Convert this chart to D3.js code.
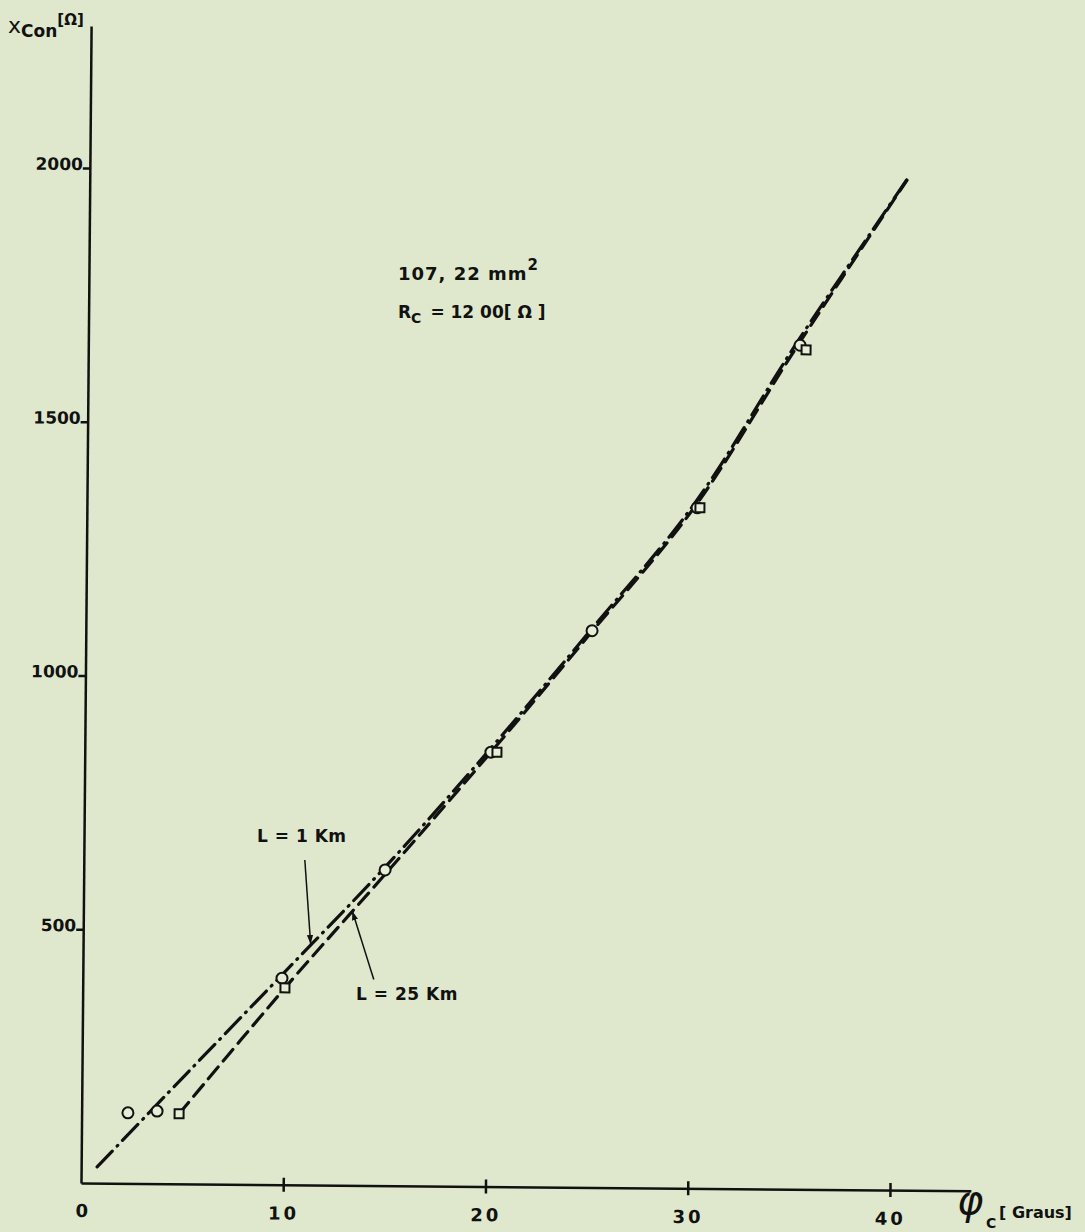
<!DOCTYPE html>
<html lang="pt">
<head>
<meta charset="UTF-8">
<title>Xcon x phi</title>
<style>
    body { margin: 0; background: #dfe8cd; }
    svg { display: block; }
    text { font-family: "DejaVu Sans", sans-serif; font-weight: 700; fill: #111; }
</style>
</head>
<body>
<svg width="1085" height="1232"></svg>
<script src="https://d3js.org/d3.v7.min.js"></script>
<script>
// valores
var yTicks = [500, 1000, 1500, 2000];
var xTicks = [10, 20, 30, 40];

// curva L = 1 Km (traco-ponto)
var phi1 = [0.79, 5, 10, 15, 20, 25, 30, 35, 40.45];
var x1 = [32, 210, 420, 632, 860, 1100, 1347, 1666, 1994];

// curva L = 25 Km (tracejada)
var phi25 = [4.82, 10, 15, 20, 25, 30, 35, 40.4];
var x25 = [138, 388, 618, 852, 1094, 1340, 1658, 1990];

// pontos medidos
var circPhi = [2.29, 3.73, 9.85, 14.9, 20.08, 25.03, 30.17, 35.19];
var circX = [139, 143, 407, 622, 856, 1097, 1341, 1663];
var sqPhi = [4.82, 10.0, 20.38, 30.31, 35.49];
var sqX = [138, 388, 856, 1341, 1654];

var svg = d3.select("svg");

var x = d3.scaleLinear().domain([0, 44]).range([81, 81 + 44 * 20.225]);
var y = d3.scaleLinear().domain([0, 2280]).range([1183, 1183 - 2280 * 0.5075]);

// a folha digitalizada esta levemente girada
var g = svg.append("g").attr("transform", "rotate(0.5," + x(0) + "," + y(0) + ")");

// eixo Y
var yAxis = g.append("g")
    .attr("transform", "translate(" + x(0) + ",0)")
    .call(d3.axisLeft(y).tickValues(yTicks).tickFormat(d3.format("d"))
        .tickSize(7).tickSizeOuter(0).tickPadding(0));
yAxis.select(".domain").attr("stroke", "#111").attr("stroke-width", 2.5);
yAxis.selectAll(".tick line").attr("stroke", "#111").attr("stroke-width", 2.5);
yAxis.selectAll(".tick text").style("font-size", "17px").attr("dy", "0.1em")
    .attr("font-family", "DejaVu Sans, sans-serif");

// eixo X
var xAxis = g.append("g")
    .attr("transform", "translate(0," + y(0) + ")")
    .call(d3.axisBottom(x).tickValues(xTicks).tickSize(7).tickSizeOuter(0).tickPadding(15));
xAxis.select(".domain").attr("stroke", "#111").attr("stroke-width", 2.5);
xAxis.selectAll(".tick line").attr("stroke", "#111").attr("stroke-width", 2.5).attr("y1", -7);
xAxis.selectAll(".tick text").style("font-size", "18px").style("letter-spacing", "3px")
    .attr("font-family", "DejaVu Sans, sans-serif");

g.append("text").attr("x", x(0) + 1).attr("y", y(0) + 34)
    .attr("text-anchor", "middle").style("font-size", "18px").text("0");

// titulos dos eixos
var yl = svg.append("text").attr("x", 8).attr("y", 33).style("font-size", "22px").style("font-weight", "400");
yl.append("tspan").text("x");
yl.append("tspan").attr("dy", 4).style("font-size", "17px").style("font-weight", "700").text("Con");
yl.append("tspan").attr("dy", -12).style("font-size", "15px").style("font-weight", "700").text("[Ω]");

svg.append("text").attr("x", 957).attr("y", 1214)
    .style("font-size", "40px").style("font-style", "italic").style("font-weight", "400")
    .attr("font-family", "DejaVu Serif, serif").text("φ");
svg.append("text").attr("x", 986).attr("y", 1228).style("font-size", "14px").text("C");
svg.append("text").attr("x", 999).attr("y", 1218).style("font-size", "16px")
    .attr("font-family", "DejaVu Sans Mono, monospace").text("[ Graus]");

// anotacoes
var t1 = svg.append("text").attr("x", 398).attr("y", 280).style("font-size", "18px")
    .style("letter-spacing", "1px");
t1.append("tspan").text("107, 22 mm");
t1.append("tspan").attr("dy", -10).style("font-size", "15px").text("2");
var t2 = svg.append("text").attr("x", 398).attr("y", 318).style("font-size", "17px");
t2.append("tspan").text("R");
t2.append("tspan").attr("dy", 5).style("font-size", "14px").text("C");
t2.append("tspan").attr("dy", -5).attr("dx", 9).text("= 12 00[ Ω ]");

svg.append("text").attr("x", 257).attr("y", 842).style("font-size", "17px")
    .style("letter-spacing", "0.5px").text("L = 1 Km");
svg.append("text").attr("x", 356).attr("y", 1000).style("font-size", "17px")
    .style("letter-spacing", "0.5px").text("L = 25 Km");

// setas
svg.append("defs").append("marker")
    .attr("id", "arr").attr("viewBox", "0 0 10 10").attr("refX", 10).attr("refY", 5)
    .attr("markerWidth", 9).attr("markerHeight", 9).attr("orient", "auto")
    .attr("markerUnits", "userSpaceOnUse")
    .append("path").attr("d", "M0,1.5 L10,5 L0,8.5 Z").attr("fill", "#111");

g.append("line").attr("x1", 302).attr("y1", 858).attr("x2", x(11.25)).attr("y2", y(475))
    .attr("stroke", "#111").attr("stroke-width", 1.5).attr("marker-end", "url(#arr)");
g.append("line").attr("x1", 372).attr("y1", 977).attr("x2", x(13.3)).attr("y2", y(540))
    .attr("stroke", "#111").attr("stroke-width", 1.5).attr("marker-end", "url(#arr)");

// curvas
var line = d3.line().curve(d3.curveCatmullRom.alpha(0.5))
    .x(function(d) { return x(d[0]); })
    .y(function(d) { return y(d[1]); });

g.append("path")
    .datum(d3.zip(phi1, x1))
    .attr("d", line)
    .attr("fill", "none").attr("stroke", "#111").attr("stroke-width", 3.2)
    .attr("stroke-linecap", "round")
    .attr("stroke-dasharray", "22,7,1,7");

g.append("path")
    .datum(d3.zip(phi25, x25))
    .attr("d", line)
    .attr("fill", "none").attr("stroke", "#111").attr("stroke-width", 3.2)
    .attr("stroke-linecap", "round")
    .attr("stroke-dasharray", "15,8");

// marcadores
g.selectAll("circle.m")
    .data(d3.zip(circPhi, circX))
    .join("circle")
    .attr("class", "m")
    .attr("cx", function(d) { return x(d[0]); })
    .attr("cy", function(d) { return y(d[1]); })
    .attr("r", 5.5)
    .attr("fill", "#e6eed6").attr("stroke", "#111").attr("stroke-width", 2);

g.selectAll("rect.m")
    .data(d3.zip(sqPhi, sqX))
    .join("rect")
    .attr("class", "m")
    .attr("x", function(d) { return x(d[0]) - 4.5; })
    .attr("y", function(d) { return y(d[1]) - 4.5; })
    .attr("width", 9).attr("height", 9)
    .attr("fill", "#e6eed6").attr("stroke", "#111").attr("stroke-width", 2);
</script>
</body>
</html>
